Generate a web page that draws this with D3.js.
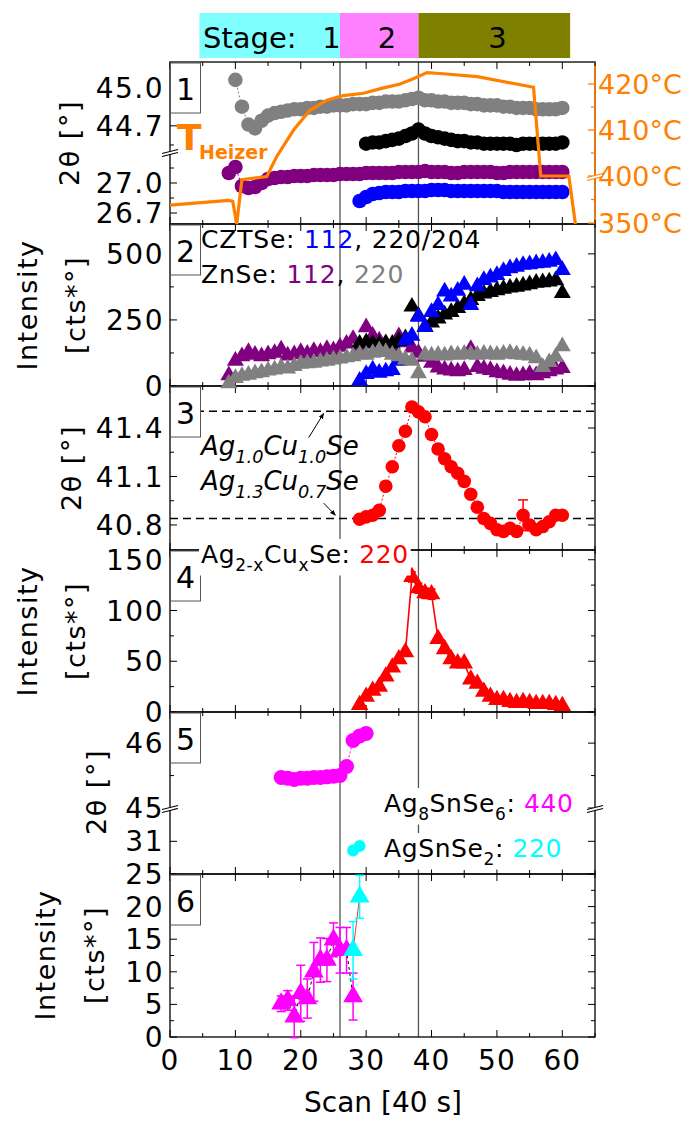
<!DOCTYPE html>
<html>
<head>
<meta charset="utf-8">
<script src="https://cdn.jsdelivr.net/npm/d3@7"></script>
<style>
  body { margin: 0; background: #fff; }
  svg { font-family: "DejaVu Sans", sans-serif; }
</style>
</head>
<body>
<div id="chart"></div>
<script>
// stage bar
const stageNames = ['1', '2', '3']
const stageFrom = [4.5, 26, 38]
const stageTo = [26, 38, 61.2]
const stageColors = ['#80ffff', '#ff80ff', '#808000']
const phaseBounds = [26, 38]

// heater temperature (panel 1, right axis)
const heaterScan = [0, 9, 9.6, 10.2, 11, 14.8, 16.3, 18.9, 21.4, 24, 26.5, 29.6, 32.2, 35.2, 37.3, 39.3, 41.3, 47, 55.6, 56.7, 61, 62]
const heaterTemp = [369, 374, 373, 349, 396, 399.5, 404.2, 410, 414.3, 416.5, 417.5, 418, 419, 420, 421.2, 422.5, 422.3, 421.6, 419.3, 400, 400, 349]

// panel 1: peak positions 2theta
const znse220PosStart = 10
const znse220Pos = [45.06, 44.85, 44.71, 44.68, 44.74, 44.78, 44.80, 44.81, 44.82, 44.83, 44.83, 44.84, 44.84, 44.85, 44.85, 44.86, 44.86, 44.86, 44.87, 44.87,
  44.87, 44.88, 44.88, 44.89, 44.89, 44.89, 44.90, 44.91, 44.92, 44.90, 44.90, 44.89, 44.89, 44.88, 44.88, 44.88, 44.87, 44.87, 44.86, 44.86,
  44.86, 44.85, 44.85, 44.84, 44.84, 44.84, 44.83, 44.83, 44.83, 44.83, 44.84]
const cztse220PosStart = 30
const cztse220Pos = [44.56, 44.57, 44.57, 44.58, 44.59, 44.60, 44.62, 44.64, 44.67, 44.64, 44.62, 44.61, 44.60, 44.59, 44.58, 44.58, 44.57, 44.57, 44.56, 44.56,
  44.56, 44.56, 44.56, 44.55, 44.56, 44.56, 44.56, 44.56, 44.56, 44.56, 44.57]
const znse112PosStart = 9
const znse112Pos = [27.10, 27.16, 26.97, 26.95, 26.96, 27.00, 27.04, 27.05, 27.06, 27.06, 27.07, 27.07, 27.07, 27.08, 27.08, 27.08, 27.08, 27.09, 27.09, 27.09,
  27.09, 27.10, 27.10, 27.10, 27.10, 27.10, 27.11, 27.11, 27.11, 27.11, 27.12, 27.11, 27.11, 27.11, 27.10, 27.10, 27.11, 27.11, 27.11, 27.11,
  27.11, 27.10, 27.10, 27.11, 27.11, 27.11, 27.11, 27.11, 27.11, 27.11, 27.11, 27.11]
const cztse112PosStart = 29
const cztse112Pos = [26.82, 26.86, 26.89, 26.90, 26.91, 26.91, 26.91, 26.92, 26.92, 26.92, 26.92, 26.93, 26.93, 26.93, 26.92, 26.92, 26.92, 26.92, 26.92, 26.92,
  26.92, 26.92, 26.91, 26.91, 26.91, 26.91, 26.91, 26.91, 26.91, 26.91, 26.91, 26.91]

// panel 2: intensities
const znse112IntStart = 9
const znse112Int = [40, 95, 112, 128, 118, 112, 120, 125, 138, 115, 120, 128, 122, 132, 128, 140, 135, 148, 160, 178,
  150, 222, 190, 172, 160, 150, 188, 165, 145, 125, 110, 88, 70, 62, 58, 55, 60, 140, 72, 65,
  60, 52, 48, 42, 38, 40, 45, 40, 48, 55, 62, 68]
const znse220IntStart = 9
const znse220Int = [10, 30, 38, 42, 48, 52, 58, 62, 70, 66, 75, 84, 86, 88, 92, 95, 100, 104, 108, 112,
  120, 118, 125, 135, 128, 118, 112, 100, 95, 48, 118, 115, 118, 115, 120, 118, 122, 120, 118, 122,
  120, 118, 122, 125, 120, 118, 115, 105, 72, 90, 110, 150]
const cztse112IntStart = 29
const cztse112Int = [20, 45, 62, 50, 55, 60, 95, 174, 190, 262, 223, 280, 306, 357, 338, 360, 383, 306, 377, 401,
  410, 420, 435, 445, 451, 458, 460, 464, 466, 470, 476, 439]
const cztse220IntStart = 29
const cztse220Int = [160, 165, 160, 158, 162, 160, 170, 180, 300, 265, 225, 240, 255, 270, 280, 295, 310, 325, 340, 350,
  355, 362, 368, 372, 375, 380, 385, 390, 392, 395, 400, 352]

// panel 3 / 4: Ag(2-x)Cu(x)Se 220
const agcuPosStart = 29
const agcuPos = [40.835, 40.85, 40.86, 40.89, 41.04, 41.16, 41.29, 41.38, 41.53, 41.50, 41.47, 41.36, 41.27, 41.21, 41.16, 41.12, 41.07, 40.99, 40.91, 40.84,
  40.81, 40.77, 40.76, 40.78, 40.76, 40.86, 40.80, 40.77, 40.79, 40.82, 40.86, 40.86]
const agcuPosErr = [0.01, 0.01, 0.01, 0.01, 0.01, 0.01, 0.01, 0.01, 0.01, 0.01, 0.01, 0.01, 0.01, 0.01, 0.01, 0.01, 0.01, 0.01, 0.01, 0.01,
  0.01, 0.01, 0.01, 0.01, 0.01, 0.095, 0.01, 0.01, 0.01, 0.01, 0.01, 0.01]
const agcuLimits = [41.503, 40.84]
const agcuIntStart = 29
const agcuInt = [7, 15, 21, 25, 35, 44, 52, 59, 133, 122, 117, 116, 72, 62, 52, 48, 48, 32, 28, 20,
  15, 12, 12, 10, 9, 10, 9, 8, 8, 8, 7, 6]
const agcuIntErr = [2, 2, 2, 2, 2, 2, 2, 2, 5, 5, 5, 5, 3, 3, 3, 3, 3, 2, 2, 2,
  2, 2, 2, 2, 2, 2, 2, 2, 2, 2, 2, 2]

// panel 5 / 6: Ag8SnSe6 440, AgSnSe2 220
const ag8PosStart = 17
const ag8Pos = [45.47, 45.46, 45.44, 45.46, 45.46, 45.47, 45.47, 45.48, 45.49, 45.50, 45.64, 46.04, 46.11, 46.15]
const agsnPosStart = 28
const agsnPos = [30.86, 30.93]
const ag8IntStart = 17
const ag8Int = [5.1, 5.6, 3.1, 6.7, 5.9, 10.0, 11.8, 11.8, 14.9, 13.3, 13.3, 6.2]
const ag8IntErr = [1.2, 1.5, 3.2, 4.3, 3.0, 4.5, 3.4, 3.3, 2.6, 3.5, 3.5, 3.6]
const agsnIntStart = 28
const agsnInt = [13.3, 21.5]
const agsnIntErr = [4.4, 3.3]

// axis ticks
const xMajor = [0, 10, 20, 30, 40, 50, 60]
const xMinor = [5, 15, 25, 35, 45, 55, 65]
const p1Major = [26.7, 27.0, 44.7, 45.0], p1Minor = [26.85, 27.15, 44.55, 44.85]
const tempMajor = [350, 400, 410, 420], tempMinor = [375, 405, 415]
const p2Major = [0, 250, 500], p2Minor = [125, 375]
const p3Major = [40.8, 41.1, 41.4], p3Minor = [40.95, 41.25, 41.55]
const p4Major = [0, 50, 100, 150], p4Minor = [25, 75, 125]
const p5Major = [31, 45, 46], p5Minor = [45.5]
const p6Major = [0, 5, 10, 15, 20, 25], p6Minor = [2.5, 7.5, 12.5, 17.5, 22.5]

// ---------------------------------------------------------------
const W = 681, H = 1124
const left = 170, right = 595
const tops = [62, 224, 386, 550, 712, 874]
const bottoms = [224, 386, 550, 712, 874, 1037]
const orange = '#ff8000'

const x = d3.scaleLinear().domain([0, 65]).range([left, right])
const y1 = d3.scaleLinear().domain([26.59, 27.31, 44.495, 45.2]).range([224, 152, 152, 62])
const yT = d3.scaleLinear().domain([349, 400, 424.8]).range([224, 176, 62])
const y2 = d3.scaleLinear().domain([0, 613]).range([386, 224])
const y3 = d3.scaleLinear().domain([40.645, 41.66]).range([550, 386])
const y4 = d3.scaleLinear().domain([0, 159.6]).range([712, 550])
const y5 = d3.scaleLinear().domain([30.5, 31.51, 45.0, 46.48]).range([874, 808, 808, 712])
const y6 = d3.scaleLinear().domain([0, 25]).range([1037, 874])

const svg = d3.select('#chart').append('svg')
  .attr('width', W).attr('height', H)

const gBack = svg.append('g')
const gFrame = svg.append('g')
const gText = svg.append('g')
const gData = svg.append('g')
const gTop = svg.append('g')

// STAGE BAR
stageNames.forEach((s, i) => {
  gBack.append('rect')
    .attr('x', x(stageFrom[i])).attr('y', 13)
    .attr('width', x(stageTo[i]) - x(stageFrom[i])).attr('height', 45)
    .attr('fill', stageColors[i])
})
const stageLabelAt = [24.7, 33.2, 50.1]
gBack.append('text').attr('x', 203).attr('y', 48).style('font-size', '29px').text('Stage:')
stageNames.forEach((s, i) => {
  gBack.append('text').attr('x', x(stageLabelAt[i])).attr('y', 48)
    .attr('text-anchor', 'middle').style('font-size', '29px').text(s)
})

// phase boundaries
phaseBounds.forEach(b => {
  gBack.append('line')
    .attr('x1', x(b)).attr('x2', x(b)).attr('y1', tops[0]).attr('y2', bottoms[5])
    .attr('stroke', '#555').attr('stroke-width', 1.3)
})

// FRAMES AND TICKS
function frame(i, y, major, minor, fmt, skipRight) {
  const t = tops[i], b = bottoms[i]
  const g = gFrame.append('g')
  g.append('rect').attr('x', left).attr('y', t).attr('width', right - left).attr('height', b - t)
    .attr('fill', 'none').attr('stroke', '#000').attr('stroke-width', 1.3)
  if (skipRight) {
    g.append('line').attr('x1', right).attr('x2', right).attr('y1', t).attr('y2', b)
      .attr('stroke', orange).attr('stroke-width', 1.6)
  }
  xMajor.concat(xMinor).forEach((v, k) => {
    const len = k < xMajor.length ? 7 : 4
    g.append('line').attr('x1', x(v)).attr('x2', x(v)).attr('y1', t).attr('y2', t + len).attr('stroke', '#000')
    g.append('line').attr('x1', x(v)).attr('x2', x(v)).attr('y1', b).attr('y2', b - len).attr('stroke', '#000')
  })
  major.concat(minor).forEach((v, k) => {
    const len = k < major.length ? 7 : 4
    g.append('line').attr('x1', left).attr('x2', left + len).attr('y1', y(v)).attr('y2', y(v)).attr('stroke', '#000')
    if (!skipRight)
      g.append('line').attr('x1', right).attr('x2', right - len).attr('y1', y(v)).attr('y2', y(v)).attr('stroke', '#000')
  })
  g.selectAll('.ylab').data(major).join('text')
    .attr('x', 164).attr('y', d => y(d)).attr('dy', '0.36em')
    .attr('text-anchor', 'end').style('font-size', '28px').style('letter-spacing', '1.5px')
    .text(d => fmt(d))
}

const f1 = d3.format('.1f'), f0 = d3.format('d')
frame(0, y1, p1Major, p1Minor, f1, true)
frame(1, y2, p2Major, p2Minor, f0)
frame(2, y3, p3Major, p3Minor, f1)
frame(3, y4, p4Major, p4Minor, f0)
frame(4, y5, p5Major, p5Minor, f0)
frame(5, y6, p6Major, p6Minor, f0)

// temperature axis, right side of panel 1
tempMajor.concat(tempMinor).forEach((v, k) => {
  const len = k < tempMajor.length ? 7 : 4
  gFrame.append('line').attr('x1', right).attr('x2', right - len).attr('y1', yT(v)).attr('y2', yT(v))
    .attr('stroke', orange).attr('stroke-width', 1.3)
})
gFrame.selectAll('.tlab').data(tempMajor).join('text')
  .attr('x', 598).attr('y', d => yT(d)).attr('dy', '0.36em')
  .attr('fill', orange).style('font-size', '27px')
  .text(d => d + '°C')

// axis breaks
function breakMark(bx, by, color) {
  gTop.append('polygon')
    .attr('points', [[bx - 7, by + 1], [bx + 7, by - 3], [bx + 7, by], [bx - 7, by + 4]].join(' '))
    .attr('fill', '#fff')
  ;[0, 3].forEach(o => {
    gTop.append('line').attr('x1', bx - 8).attr('y1', by + 1.5 + o).attr('x2', bx + 8).attr('y2', by - 2.5 + o)
      .attr('stroke', color).attr('stroke-width', 1.2)
  })
}
breakMark(left, 152, '#000')
breakMark(right, 176, orange)
breakMark(left, 808, '#000')
breakMark(right, 808, '#000')

// x axis labels
gFrame.selectAll('.xlab').data(xMajor).join('text')
  .attr('x', d => x(d)).attr('y', 1070).attr('text-anchor', 'middle')
  .style('font-size', '28px').style('letter-spacing', '1px').text(d => d)
gFrame.append('text').attr('x', 383).attr('y', 1112).attr('text-anchor', 'middle')
  .style('font-size', '28px').text('Scan [40 s]')

// y axis titles
function rotText(cx, cy, txt) {
  gFrame.append('text')
    .attr('transform', 'translate(' + cx + ',' + cy + ') rotate(-90)')
    .attr('text-anchor', 'middle').attr('dy', '0.35em')
    .style('font-size', '27px').style('letter-spacing', '1.5px').text(txt)
}
rotText(70, 143, '2θ [°]')
rotText(28, 305, 'Intensity'); rotText(76, 305, '[cts*°]')
rotText(72, 468, '2θ [°]')
rotText(28, 631, 'Intensity'); rotText(76, 631, '[cts*°]')
rotText(97, 792, '2θ [°]')
rotText(46, 955, 'Intensity'); rotText(95, 955, '[cts*°]')

// panel numbers
tops.forEach((t, i) => {
  gTop.append('rect').attr('x', left + 0.5).attr('y', t + 1).attr('width', 30).attr('height', 50)
    .attr('fill', '#fff').attr('stroke', '#555').attr('stroke-width', 1)
  gTop.append('text').attr('x', left + 15.5).attr('y', t + 38).attr('text-anchor', 'middle')
    .style('font-size', '30px').text(i + 1)
})

// rich text with subscripts
function rich(g, tx, ty, parts, size, opts) {
  opts = opts || {}
  const t = g.append('text').attr('x', tx).attr('y', ty).style('font-size', size + 'px')
  if (opts.italic) t.style('font-style', 'italic')
  if (opts.spacing) t.style('letter-spacing', opts.spacing + 'px')
  let shift = 0
  parts.forEach(p => {
    const s = p.sub ? size * 0.3 : 0
    t.append('tspan').attr('dy', s - shift).attr('fill', p.c || '#000')
      .style('font-size', p.sub ? (size * 0.68) + 'px' : null).text(p.t)
    shift = s
  })
  if (opts.bg) {
    const bb = t.node().getBBox()
    g.insert('rect', () => t.node())
      .attr('x', bb.x - 2).attr('y', bb.y - 1).attr('width', bb.width + 4).attr('height', bb.height + 2)
      .attr('fill', '#fff')
  }
  return t
}

rich(gText, 201, 248, [{ t: 'CZTSe: ' }, { t: '112', c: '#0000ff' }, { t: ', 220/204' }], 25, { spacing: 0.8 })
rich(gText, 201, 283, [{ t: 'ZnSe: ' }, { t: '112', c: '#800080' }, { t: ', ' }, { t: '220', c: '#808080' }], 25, { spacing: 0.8 })

rich(gText, 201, 455, [{ t: 'Ag' }, { t: '1.0', sub: true }, { t: 'Cu' }, { t: '1.0', sub: true }, { t: 'Se' }], 26, { italic: true })
rich(gText, 201, 490, [{ t: 'Ag' }, { t: '1.3', sub: true }, { t: 'Cu' }, { t: '0.7', sub: true }, { t: 'Se' }], 26, { italic: true })

rich(gTop, 201, 563, [{ t: 'Ag' }, { t: '2-x', sub: true }, { t: 'Cu' }, { t: 'x', sub: true }, { t: 'Se: ' }, { t: '220', c: '#ff0000' }], 25, { bg: true, spacing: 0.6 })
rich(gText, 384, 812, [{ t: 'Ag' }, { t: '8', sub: true }, { t: 'SnSe' }, { t: '6', sub: true }, { t: ': ' }, { t: '440', c: '#ff00ff' }], 25, { bg: true, spacing: 0.6 })
rich(gText, 384, 857, [{ t: 'AgSnSe' }, { t: '2', sub: true }, { t: ': ' }, { t: '220', c: '#00ffff' }], 25, { bg: true, spacing: 0.6 })

// T Heizer label
gText.append('text').attr('x', 177).attr('y', 150).attr('fill', orange)
  .style('font-size', '36px').style('font-weight', 'bold').text('T')
gText.append('text').attr('x', 199).attr('y', 159).attr('fill', orange)
  .style('font-size', '19px').style('font-weight', 'bold').text('Heizer')

// dashed reference lines + arrows in panel 3
agcuLimits.forEach(v => {
  gText.append('line').attr('x1', left).attr('x2', right).attr('y1', y3(v)).attr('y2', y3(v))
    .attr('stroke', '#000').attr('stroke-width', 1.5).attr('stroke-dasharray', '8,5')
})
svg.append('defs').append('marker').attr('id', 'ah')
  .attr('viewBox', '0 0 10 10').attr('refX', 9).attr('refY', 5)
  .attr('markerWidth', 6).attr('markerHeight', 6).attr('orient', 'auto')
  .append('path').attr('d', 'M0,1 L10,5 L0,9 z').attr('fill', '#000')
gText.append('line').attr('x1', x(21.2)).attr('y1', y3(41.34)).attr('x2', x(23.5)).attr('y2', y3(41.49))
  .attr('stroke', '#000').attr('stroke-width', 1).attr('marker-end', 'url(#ah)')
gText.append('line').attr('x1', x(23.5)).attr('y1', y3(40.935)).attr('x2', x(25.3)).attr('y2', y3(40.86))
  .attr('stroke', '#000').attr('stroke-width', 1).attr('marker-end', 'url(#ah)')

// DATA
function pts(start, vals) { return vals.map((v, i) => [start + i, v]) }

function link(data, y, color, width, dash) {
  gData.append('path').datum(data)
    .attr('d', d3.line().x(d => x(d[0])).y(d => y(d[1])))
    .attr('fill', 'none').attr('stroke', color).attr('stroke-width', width)
    .attr('stroke-dasharray', dash || null)
}
function circles(data, y, color, r) {
  gData.append('g').selectAll('circle').data(data).join('circle')
    .attr('cx', d => x(d[0])).attr('cy', d => y(d[1])).attr('r', r).attr('fill', color)
}
function triangles(data, y, color, size) {
  const sym = d3.symbol(d3.symbolTriangle, size)
  gData.append('g').selectAll('path').data(data).join('path')
    .attr('transform', d => 'translate(' + x(d[0]) + ',' + y(d[1]) + ')')
    .attr('d', sym).attr('fill', color)
}
function errors(data, errs, y, color, cap) {
  const g = gData.append('g').attr('stroke', color).attr('stroke-width', 1.5)
  data.forEach((d, i) => {
    const cx = x(d[0]), lo = y(d[1] - errs[i]), hi = y(d[1] + errs[i])
    g.append('line').attr('x1', cx).attr('x2', cx).attr('y1', lo).attr('y2', hi)
    g.append('line').attr('x1', cx - cap).attr('x2', cx + cap).attr('y1', lo).attr('y2', lo)
    g.append('line').attr('x1', cx - cap).attr('x2', cx + cap).attr('y1', hi).attr('y2', hi)
  })
}

// panel 1
const p1g = pts(znse220PosStart, znse220Pos)
const p1k = pts(cztse220PosStart, cztse220Pos)
const p1p = pts(znse112PosStart, znse112Pos)
const p1b = pts(cztse112PosStart, cztse112Pos)
link(p1g, y1, '#808080', 1, '2,2'); circles(p1g, y1, '#808080', 7.3)
link(p1k, y1, '#000', 1, '2,2'); circles(p1k, y1, '#000', 7.3)
link(p1p, y1, '#800080', 1, '2,2'); circles(p1p, y1, '#800080', 7.3)
link(p1b, y1, '#0000ff', 1, '2,2'); circles(p1b, y1, '#0000ff', 7.3)
gData.append('path').datum(heaterScan.map((s, i) => [s, heaterTemp[i]]))
  .attr('d', d3.line().x(d => x(d[0])).y(d => yT(d[1])))
  .attr('fill', 'none').attr('stroke', orange).attr('stroke-width', 3.2)

// panel 2
triangles(pts(znse112IntStart, znse112Int), y2, '#800080', 125)
triangles(pts(cztse220IntStart, cztse220Int), y2, '#000', 125)
triangles(pts(cztse112IntStart, cztse112Int), y2, '#0000ff', 125)
triangles(pts(znse220IntStart, znse220Int), y2, '#808080', 125)

// panel 3
const p3 = pts(agcuPosStart, agcuPos)
link(p3, y3, '#ff0000', 1, '2,2')
errors(p3, agcuPosErr, y3, '#ff0000', 5)
circles(p3, y3, '#ff0000', 6.8)

// panel 4
const p4 = pts(agcuIntStart, agcuInt)
link(p4, y4, '#ff0000', 1.6)
errors(p4, agcuIntErr, y4, '#ff0000', 4)
triangles(p4, y4, '#ff0000', 135)

// panel 5
const p5m = pts(ag8PosStart, ag8Pos)
link(p5m, y5, '#ff00ff', 1, '2,2')
circles(p5m, y5, '#ff00ff', 7.5)
const p5c = pts(agsnPosStart, agsnPos)
circles(p5c, y5, '#00ffff', 6)

// panel 6
const p6m = pts(ag8IntStart, ag8Int)
const p6c = pts(agsnIntStart, agsnInt)
link(p6m, y6, '#000', 1, '3,3')
link(p6c, y6, '#ff3030', 1)
errors(p6m, ag8IntErr, y6, '#ff00ff', 4.5)
errors(p6c, agsnIntErr, y6, '#00ffff', 4.5)
triangles(p6m, y6, '#ff00ff', 170)
triangles(p6c, y6, '#00ffff', 170)
</script>
</body>
</html>
